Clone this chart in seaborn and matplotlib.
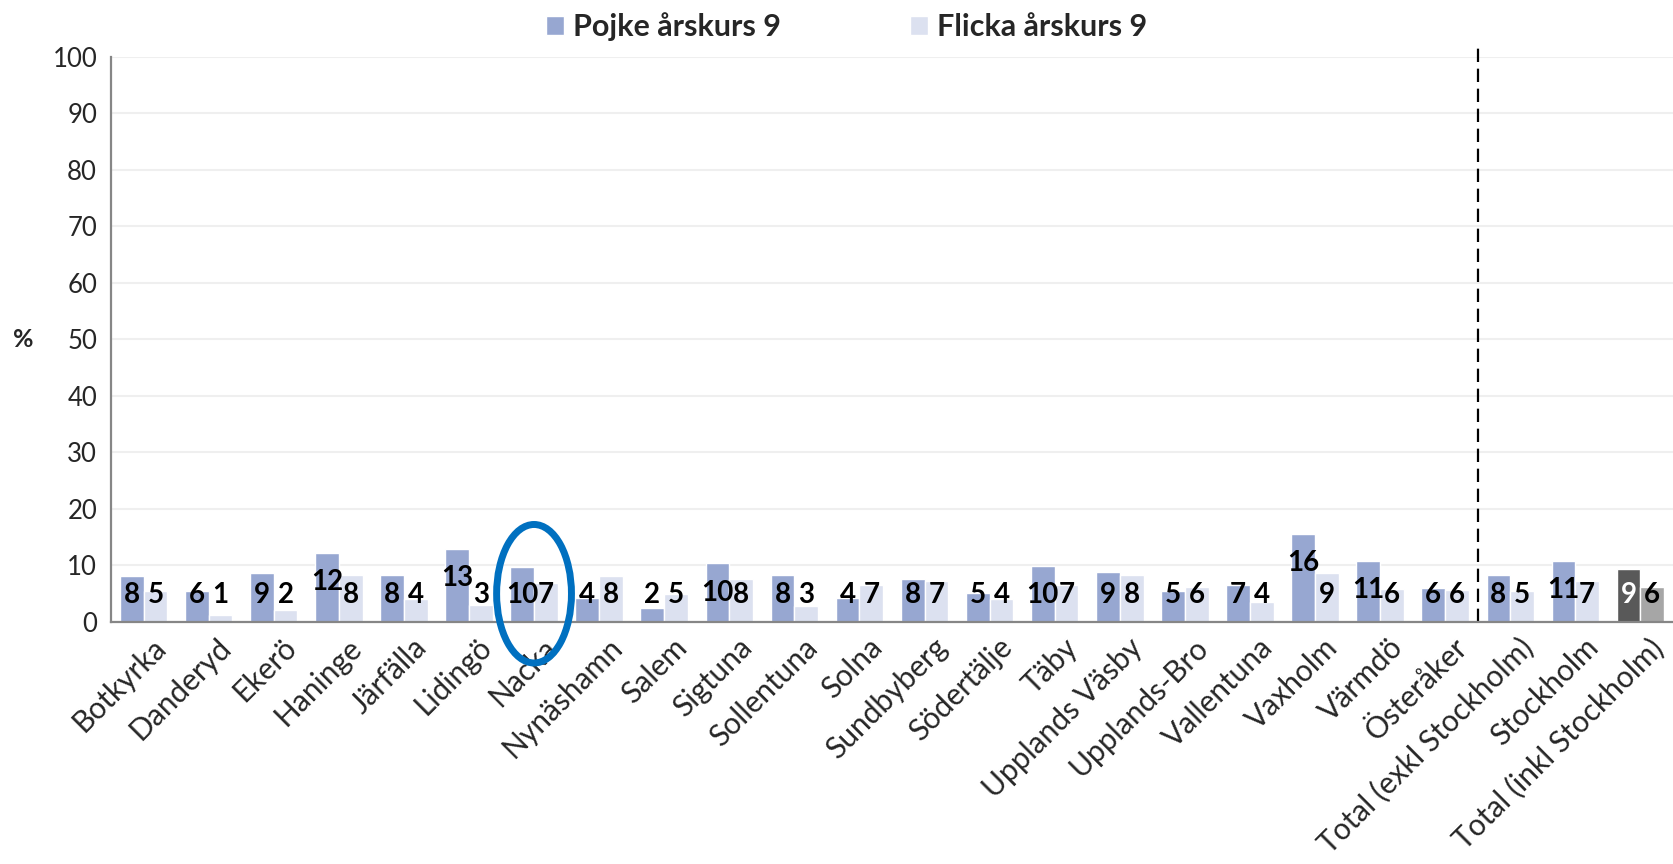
import numpy as np
import pandas as pd
import seaborn as sns
import matplotlib.pyplot as plt
from matplotlib.patches import Ellipse
from matplotlib.transforms import ScaledTranslation

kommuner = ["Botkyrka", "Danderyd", "Ekerö", "Haninge", "Järfälla", "Lidingö", "Nacka",
            "Nynäshamn", "Salem", "Sigtuna", "Sollentuna", "Solna", "Sundbyberg",
            "Södertälje", "Täby", "Upplands Väsby", "Upplands-Bro", "Vallentuna",
            "Vaxholm", "Värmdö", "Österåker", "Total (exkl Stockholm)", "Stockholm",
            "Total (inkl Stockholm)"]
pojke = [8.1, 5.5, 8.6, 12.2, 8.4, 12.9, 9.7, 4.3, 2.4, 10.4, 8.3, 4.3, 7.6, 5.2,
         9.9, 8.8, 5.4, 6.6, 15.6, 10.8, 6.0, 8.4, 10.8, 9.3]
flicka = [5.4, 1.2, 2.2, 8.4, 4.0, 3.0, 6.9, 8.2, 4.9, 7.6, 2.8, 6.6, 7.2, 4.0,
          6.6, 8.4, 6.2, 3.6, 8.6, 5.8, 5.7, 5.4, 7.2, 6.2]
serier = ["Pojke årskurs 9", "Flicka årskurs 9"]

df = pd.DataFrame({
    "Kommun": kommuner * 2,
    "Andel": pojke + flicka,
    "Kön": [serier[0]] * len(kommuner) + [serier[1]] * len(kommuner),
})

sns.set_style("white")
plt.rcParams["font.family"] = ["Lato", "DejaVu Sans"]

fig = plt.figure(figsize=(16.73, 8.64), dpi=100)
ax = fig.add_axes([111 / 1673, 1 - 622 / 864, 1562 / 1673, (622 - 56.7) / 864])

sns.barplot(data=df, x="Kommun", y="Andel", hue="Kön", order=kommuner,
            hue_order=serier, palette=["#97a7d1", "#dce1f0"], width=0.73,
            saturation=1, ax=ax)

# sista kategorin i grått
ax.containers[0][-1].set_facecolor("#595959")
ax.containers[1][-1].set_facecolor("#a6a6a6")

# datatiketter
for ci, cont in enumerate(ax.containers):
    for i, bar in enumerate(cont):
        v = bar.get_height()
        col = "white" if (ci == 0 and i == len(kommuner) - 1) else "black"
        ax.text(bar.get_x() + bar.get_width() / 2, max(4.7, v - 5.2), f"{v:.0f}",
                ha="center", va="center", fontsize=20, fontweight="bold", color=col)

ax.set_xlim(-0.5, len(kommuner) - 0.5)
ax.set_ylim(0, 100)
ax.set_yticks(np.arange(0, 101, 10))
ax.yaxis.grid(True, color="#efefef", lw=1.5)
ax.set_axisbelow(True)
for s in ["top", "right"]:
    ax.spines[s].set_visible(False)
for s in ["left", "bottom"]:
    ax.spines[s].set_color("#868686")
    ax.spines[s].set_linewidth(1.6)

ax.set_xlabel("")
ax.set_ylabel("%", rotation=0, fontsize=18, fontweight="bold", va="center")
ax.yaxis.set_label_coords(-0.056, 0.5)

ax.tick_params(axis="y", labelsize=18.5, length=6, width=1.5, color="#868686", pad=4)
ax.set_xticks(np.arange(-0.5, len(kommuner)), minor=True)
ax.tick_params(axis="x", which="minor", length=7, width=1.5, color="#868686")
ax.tick_params(axis="x", which="major", length=0, labelsize=21.5, pad=8)
ax.set_xticks(range(len(kommuner)))
ax.set_xticklabels(kommuner, rotation=45, ha="right", rotation_mode="anchor")
off = ScaledTranslation(6 / 72, 0, fig.dpi_scale_trans)
for lab in ax.get_xticklabels():
    lab.set_transform(lab.get_transform() + off)

# streckad avgränsning före totalerna
ax.plot([20.5, 20.5], [0, 102], color="black", lw=1.6, ls=(0, (6, 3)), clip_on=False)

# markering runt Nacka
ax.add_patch(Ellipse((kommuner.index("Nacka"), 5.0), 1.15, 24.5, fill=False,
                     ec="#0070c0", lw=5, clip_on=False, zorder=5))

h, l = ax.get_legend_handles_labels()
ax.legend(h, l, loc="center", bbox_to_anchor=(0.506, 0.969),
          bbox_transform=fig.transFigure, ncol=2, frameon=False,
          prop={"size": 22, "weight": "bold"}, handlelength=0.6,
          handleheight=0.6, handletextpad=0.3, columnspacing=4.2)

fig.savefig("out.png", dpi=100)
